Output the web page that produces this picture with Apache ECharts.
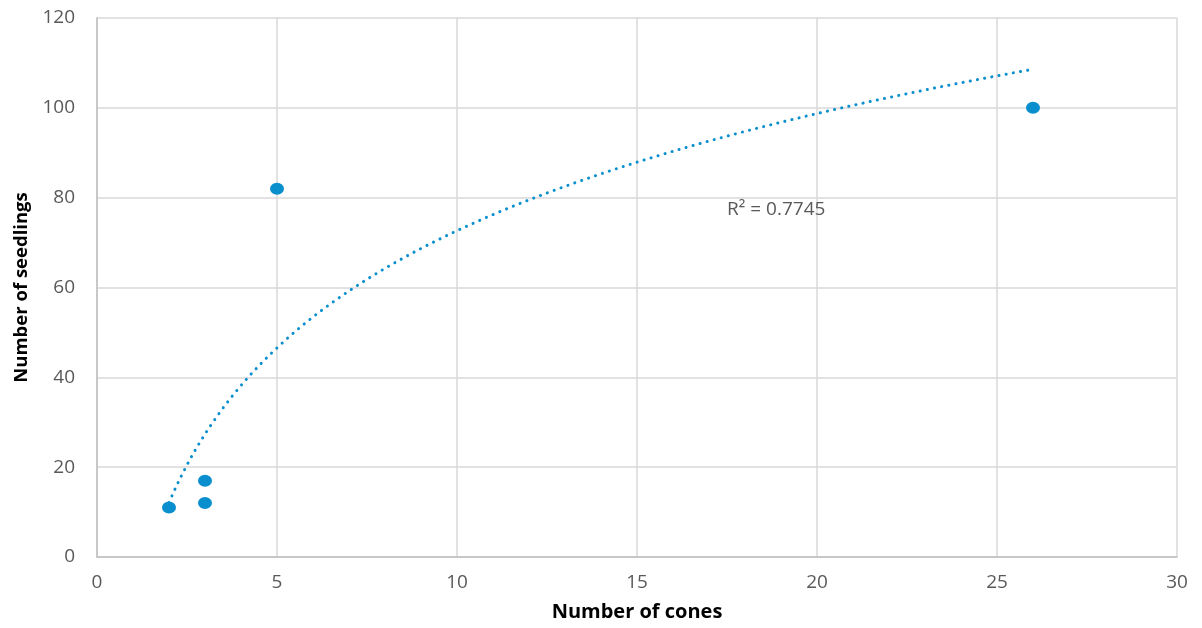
<!DOCTYPE html>
<html>
<head>
<meta charset="utf-8">
<script src="https://cdn.jsdelivr.net/npm/echarts@6/dist/echarts.min.js"></script>
<style>html,body{margin:0;padding:0;background:#fff}#c{width:1202px;height:628px}</style>
</head>
<body>
<div id="c"></div>
<script>
var cones = [2, 3, 3, 5, 26];
var seedlings = [11, 17, 12, 82, 100];
var xTicks = [0, 5, 10, 15, 20, 25, 30];
var yTicks = [0, 20, 40, 60, 80, 100, 120];
var xTitle = 'Number of cones';
var yTitle = 'Number of seedlings';
var r2Text = 'R² = 0.7745';

// logarithmic least-squares trendline y = a ln(x) + b, fitted to the data
var n = cones.length, sx = 0, sy = 0;
for (var i = 0; i < n; i++) { sx += Math.log(cones[i]); sy += seedlings[i]; }
var mx = sx / n, my = sy / n, sxx = 0, sxy = 0;
for (var i = 0; i < n; i++) {
  var d = Math.log(cones[i]) - mx;
  sxx += d * d; sxy += d * (seedlings[i] - my);
}
var a = sxy / sxx, b = my - a * mx;
var xmin = Math.min.apply(null, cones), xmax = Math.max.apply(null, cones);
var trend = [];
for (var k = 0; k <= 200; k++) {
  var x = xmin + (xmax - xmin) * k / 200;
  trend.push([x, a * Math.log(x) + b]);
}

var font = '"Open Sans", "Noto Sans", sans-serif';
var chart = echarts.init(document.getElementById('c'));
chart.setOption({
  animation: false,
  grid: { left: 97, right: 25, top: 18, bottom: 71 },
  title: {
    text: r2Text, left: 722, top: 195,
    textStyle: { fontFamily: font, fontSize: 19, fontWeight: 'normal', color: '#595959' }
  },
  xAxis: {
    type: 'value', min: 0, max: 30, interval: 5,
    name: xTitle, nameLocation: 'middle', nameGap: 45,
    nameTextStyle: { fontFamily: font, fontSize: 20, fontWeight: 'bold', color: '#000' },
    axisLine: { show: true, lineStyle: { color: '#bfbfbf', width: 1.5 } },
    axisTick: { show: false },
    axisLabel: { fontFamily: font, fontSize: 19, color: '#595959', margin: 16,
      formatter: function (v) { return xTicks.indexOf(v) >= 0 ? String(v) : ''; } },
    splitLine: { show: true, lineStyle: { color: '#d9d9d9', width: 1.5 } }
  },
  yAxis: {
    type: 'value', min: 0, max: 120, interval: 20,
    name: yTitle, nameLocation: 'middle', nameGap: 66, nameRotate: 90,
    nameTextStyle: { fontFamily: font, fontSize: 18.5, fontWeight: 'bold', color: '#000' },
    axisLine: { show: true, lineStyle: { color: '#bfbfbf', width: 1.5 } },
    axisTick: { show: false },
    axisLabel: { fontFamily: font, fontSize: 19, color: '#595959', margin: 22,
      formatter: function (v) { return yTicks.indexOf(v) >= 0 ? String(v) : ''; } },
    splitLine: { show: true, lineStyle: { color: '#d9d9d9', width: 1.5 } }
  },
  series: [
    {
      type: 'line', data: trend, showSymbol: false, symbol: 'none', smooth: false,
      lineStyle: { color: '#0a8fce', width: 3, type: [0.1, 7.2], cap: 'round' },
      z: 2, silent: true
    },
    {
      type: 'scatter',
      data: cones.map(function (c, i) { return [c, seedlings[i]]; }),
      symbol: 'circle', symbolSize: [14, 12],
      itemStyle: { color: '#0a8fce', opacity: 1 }, z: 3
    }
  ]
});
</script>
</body>
</html>
